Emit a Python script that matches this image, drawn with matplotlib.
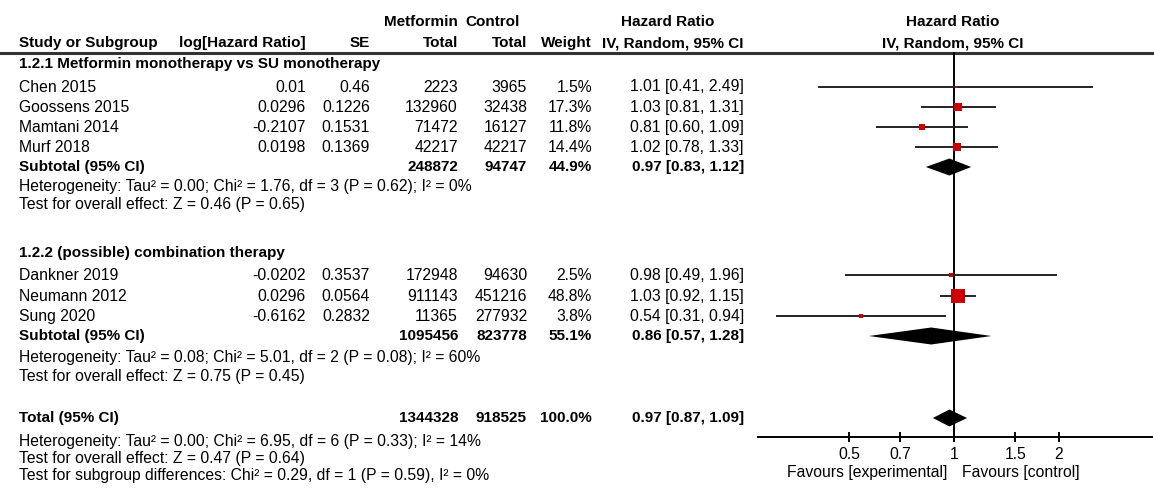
import numpy as np
import matplotlib.pyplot as plt

plt.rcParams['font.family'] = ['Liberation Sans', 'DejaVu Sans']

# DATA
studies1 = ['Chen 2015', 'Goossens 2015', 'Mamtani 2014', 'Murf 2018']
loghr1 = [0.01, 0.0296, -0.2107, 0.0198]
se1 = [0.46, 0.1226, 0.1531, 0.1369]
met1 = [2223, 132960, 71472, 42217]
ctl1 = [3965, 32438, 16127, 42217]
w1 = [1.5, 17.3, 11.8, 14.4]
hr1 = [1.01, 1.03, 0.81, 1.02]
lo1 = [0.41, 0.81, 0.60, 0.78]
hi1 = [2.49, 1.31, 1.09, 1.33]

studies2 = ['Dankner 2019', 'Neumann 2012', 'Sung 2020']
loghr2 = [-0.0202, 0.0296, -0.6162]
se2 = [0.3537, 0.0564, 0.2832]
met2 = [172948, 911143, 11365]
ctl2 = [94630, 451216, 277932]
w2 = [2.5, 48.8, 3.8]
hr2 = [0.98, 1.03, 0.54]
lo2 = [0.49, 0.92, 0.31]
hi2 = [1.96, 1.15, 0.94]

# subtotal 1, subtotal 2, total
sub_met = [248872, 1095456, 1344328]
sub_ctl = [94747, 823778, 918525]
sub_w = [44.9, 55.1, 100.0]
sub_hr = [0.97, 0.86, 0.97]
sub_lo = [0.83, 0.57, 0.87]
sub_hi = [1.12, 1.28, 1.09]

group_titles = ['1.2.1 Metformin monotherapy vs SU monotherapy',
                '1.2.2 (possible) combination therapy']
het1 = ['Heterogeneity: Tau\u00b2 = 0.00; Chi\u00b2 = 1.76, df = 3 (P = 0.62); I\u00b2 = 0%',
        'Test for overall effect: Z = 0.46 (P = 0.65)']
het2 = ['Heterogeneity: Tau\u00b2 = 0.08; Chi\u00b2 = 5.01, df = 2 (P = 0.08); I\u00b2 = 60%',
        'Test for overall effect: Z = 0.75 (P = 0.45)']
het_tot = ['Heterogeneity: Tau\u00b2 = 0.00; Chi\u00b2 = 6.95, df = 6 (P = 0.33); I\u00b2 = 14%',
           'Test for overall effect: Z = 0.47 (P = 0.64)',
           'Test for subgroup differences: Chi\u00b2 = 0.29, df = 1 (P = 0.59), I\u00b2 = 0%']

ticks = [0.5, 0.7, 1, 1.5, 2]
tick_labels = ['0.5', '0.7', '1', '1.5', '2']

# LAYOUT (pixel rows)
W, H = 1154, 490
fs = 11.3
fs_b = 11.0
y_rows1 = [87, 107, 127, 147]
y_rows2 = [275, 296, 316]
y_sub = [167, 336, 418]
y_het1 = [186, 204]
y_het2 = [357, 376]
y_het_tot = [441, 458, 475]
y_titles = [64, 253]
y_axis = 437

fig = plt.figure(figsize=(W / 100, H / 100), dpi=100)
ax = fig.add_axes([0, 0, 1, 1])
ax.set_xlim(0, W)
ax.set_ylim(H, 0)
ax.axis('off')

x_name, x_lhr, x_se, x_met, x_ctl, x_w, x_ci = 19, 306, 370, 458, 527, 592, 744

def txt(x, y, s, ha='left', bold=False):
    ax.text(x, y, s, ha=ha, va='center', fontsize=fs_b if bold else fs,
            fontweight='bold' if bold else 'normal', color='black')

# headers
txt(458, 22, 'Metformin', ha='right', bold=True)
txt(520, 22, 'Control', ha='right', bold=True)
txt(668, 22, 'Hazard Ratio', ha='center', bold=True)
txt(953, 22, 'Hazard Ratio', ha='center', bold=True)
txt(x_name, 43, 'Study or Subgroup', bold=True)
txt(x_lhr, 43, 'log[Hazard Ratio]', ha='right', bold=True)
txt(x_se, 43, 'SE', ha='right', bold=True)
txt(x_met, 43, 'Total', ha='right', bold=True)
txt(x_ctl, 43, 'Total', ha='right', bold=True)
txt(x_w, 43, 'Weight', ha='right', bold=True)
txt(x_ci, 43, 'IV, Random, 95% CI', ha='right', bold=True)
txt(953, 43, 'IV, Random, 95% CI', ha='center', bold=True)
ax.plot([0, W], [53, 53], color='#333333', lw=2.2)

groups = [
    (studies1, loghr1, se1, met1, ctl1, w1, hr1, lo1, hi1, y_rows1, het1),
    (studies2, loghr2, se2, met2, ctl2, w2, hr2, lo2, hi2, y_rows2, het2),
]

for g, (names, lhr, se, met, ctl, w, hr, lo, hi, ys, het) in enumerate(groups):
    txt(x_name, y_titles[g], group_titles[g], bold=True)
    for i in range(len(names)):
        y = ys[i]
        txt(x_name, y, names[i])
        txt(x_lhr, y, str(lhr[i]), ha='right')
        txt(x_se, y, str(se[i]), ha='right')
        txt(x_met, y, str(met[i]), ha='right')
        txt(x_ctl, y, str(ctl[i]), ha='right')
        txt(x_w, y, f'{w[i]:.1f}%', ha='right')
        txt(x_ci, y, f'{hr[i]:.2f} [{lo[i]:.2f}, {hi[i]:.2f}]', ha='right')
    for j, s in enumerate(het):
        txt(x_name, [y_het1, y_het2][g][j], s)

for k in range(3):
    y = y_sub[k]
    txt(x_name, y, 'Subtotal (95% CI)' if k < 2 else 'Total (95% CI)', bold=True)
    txt(x_met, y, str(sub_met[k]), ha='right', bold=True)
    txt(x_ctl, y, str(sub_ctl[k]), ha='right', bold=True)
    txt(x_w, y, f'{sub_w[k]:.1f}%', ha='right', bold=True)
    txt(x_ci, y, f'{sub_hr[k]:.2f} [{sub_lo[k]:.2f}, {sub_hi[k]:.2f}]', ha='right', bold=True)
for j, s in enumerate(het_tot):
    txt(x_name, y_het_tot[j], s)

# FOREST PLOT
x0, x1 = 758, 1152
ax2 = fig.add_axes([x0 / W, 0, (x1 - x0) / W, 1])
ax2.patch.set_visible(False)
ax2.set_xscale('log')
ax2.set_xlim(np.exp(-1.294), np.exp(1.307))
ax2.set_ylim(H, 0)

ax2.plot([1, 1], [53, y_axis], color='black', lw=1.4)

for names, lhr, se, met, ctl, w, hr, lo, hi, ys, het in groups:
    for i in range(len(names)):
        ax2.plot([lo[i], hi[i]], [ys[i], ys[i]], color='#222222', lw=1.4)
        side_px = 1.9 * np.sqrt(w[i])
        ax2.plot(hr[i], ys[i], marker='s', color='#cc0000', ms=side_px / 1.389,
                 mec='#cc0000', mew=0)

for k in range(3):
    y = y_sub[k]
    ax2.fill([sub_lo[k], sub_hr[k], sub_hi[k], sub_hr[k]],
             [y, y - 8.5, y, y + 8.5], color='black', lw=0)

for s in ['top', 'left', 'right']:
    ax2.spines[s].set_visible(False)
ax2.spines['bottom'].set_position(('data', y_axis))
ax2.spines['bottom'].set_linewidth(1.4)
ax2.set_yticks([])
ax2.set_xticks(ticks)
ax2.set_xticklabels(tick_labels, fontsize=fs)
ax2.minorticks_off()
ax2.tick_params(axis='x', direction='inout', length=7, width=1.4, pad=3.5)

ax2.text(0.955, 472, 'Favours [experimental]', ha='right', va='center', fontsize=fs)
ax2.text(1.054, 472, 'Favours [control]', ha='left', va='center', fontsize=fs)

plt.savefig('out.png', dpi=100)
plt.close()
